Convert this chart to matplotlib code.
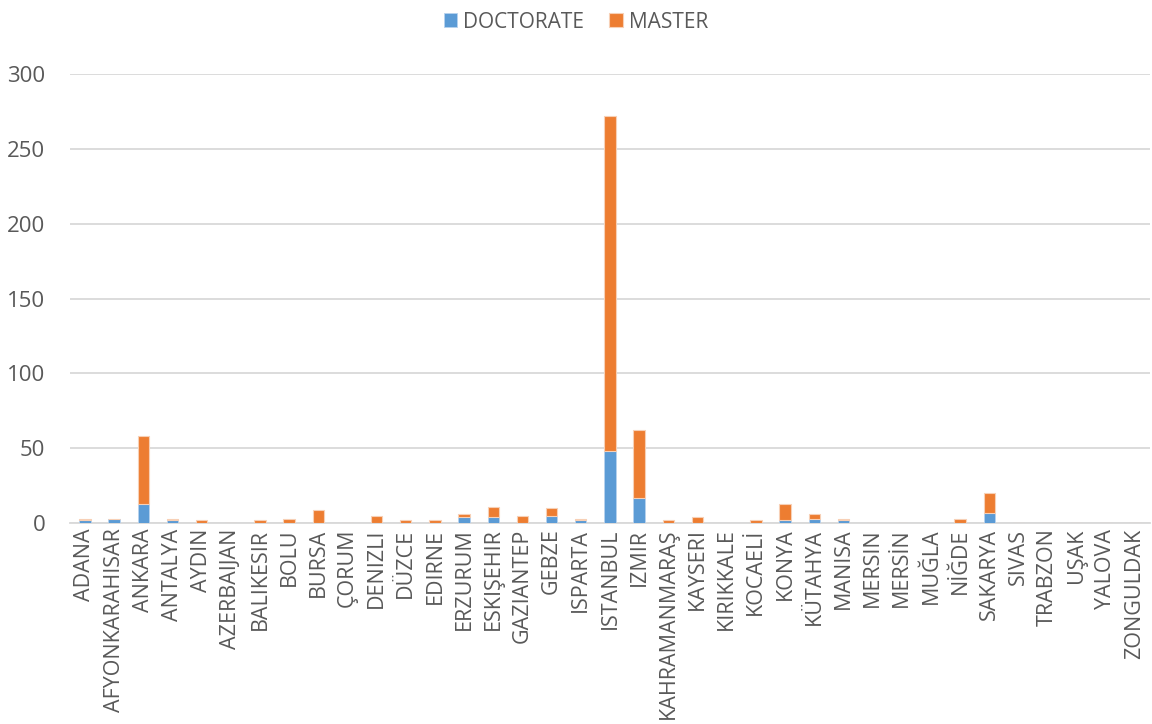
import numpy as np
import matplotlib
matplotlib.use("Agg")
import matplotlib.pyplot as plt

plt.rcParams['font.family'] = ['Open Sans', 'DejaVu Sans']

cities = ["ADANA", "AFYONKARAHISAR", "ANKARA", "ANTALYA", "AYDIN", "AZERBAIJAN",
          "BALIKESIR", "BOLU", "BURSA", "ÇORUM", "DENIZLI", "DÜZCE", "EDIRNE",
          "ERZURUM", "ESKIŞEHIR", "GAZIANTEP", "GEBZE", "ISPARTA", "ISTANBUL",
          "IZMIR", "KAHRAMANMARAŞ", "KAYSERI", "KIRIKKALE", "KOCAELİ", "KONYA",
          "KÜTAHYA", "MANISA", "MERSIN", "MERSİN", "MUĞLA", "NİĞDE", "SAKARYA",
          "SIVAS", "TRABZON", "UŞAK", "YALOVA", "ZONGULDAK"]

doctorate = [2, 3, 13, 2, 0, 0, 0, 0, 0, 0, 0, 0, 0, 4, 4, 0, 5, 2, 48,
             17, 0, 0, 0, 0, 2, 3, 2, 0, 0, 0, 0, 7, 0, 0, 0, 0, 0]
master = [1, 0, 45, 1, 2, 0, 2, 3, 9, 0, 5, 2, 2, 2, 7, 5, 5, 1, 224,
          45, 2, 4, np.nan, 2, 11, 3, 1, 0, 0, 0, 3, 13, 0, 0, 0, 0, 0]

blue = "#5B9BD5"
orange = "#ED7D31"

fig = plt.figure(figsize=(11.52, 7.24), dpi=100)
ax = fig.add_axes([0.061, 0.2776, 0.937, 0.6202])

x = np.arange(len(cities))
doc = np.array(doctorate, dtype=float)
mas = np.array(master, dtype=float)

ax.bar(x, doc, width=0.39, color=blue, edgecolor="#b7d2ee", linewidth=0.6,
       label="DOCTORATE", zorder=3)
ax.bar(x, mas, width=0.39, bottom=doc, color=orange, edgecolor="#f7d0b6",
       linewidth=0.8, label="MASTER", zorder=3)

ax.set_xlim(-0.5, len(cities) - 0.5)
ax.set_ylim(0, 300)
ax.set_yticks([0, 50, 100, 150, 200, 250, 300])
ax.yaxis.grid(True, color="#d9d9d9", linewidth=1.3, zorder=0)
ax.set_axisbelow(True)

for s in ["top", "right", "left"]:
    ax.spines[s].set_visible(False)
ax.spines["bottom"].set_color("#d9d9d9")
ax.spines["bottom"].set_linewidth(1.3)
ax.spines["bottom"].set_zorder(1)

ax.set_xticks(x)
ax.set_xticklabels(cities, rotation=90, fontsize=15.5, color="#595959")
ax.tick_params(axis="x", length=0, pad=4)
ax.tick_params(axis="y", length=0, labelsize=16, labelcolor="#595959", pad=18)

fig.legend(loc="upper center", bbox_to_anchor=(0.5, 1.01), ncol=2, frameon=False,
           fontsize=15, handlelength=0.65, handleheight=0.65, handletextpad=0.3,
           columnspacing=1.2, labelcolor="#595959")

fig.savefig("out.png", dpi=100)
